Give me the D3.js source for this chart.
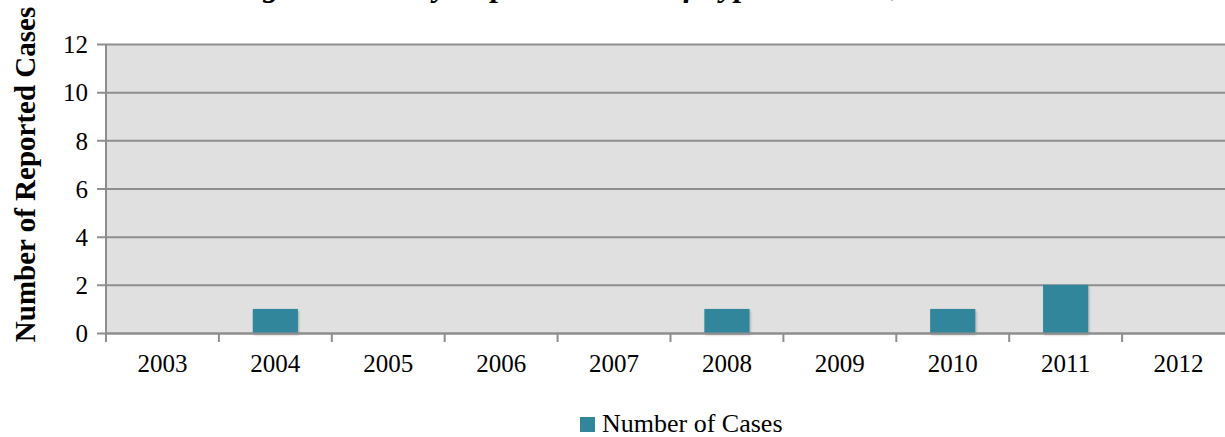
<!DOCTYPE html>
<html>
<head>
<meta charset="utf-8">
<script src="https://cdn.jsdelivr.net/npm/d3@7"></script>
<style>
  html, body { margin: 0; padding: 0; background: #fff; overflow: hidden; }
  svg { display: block; }
  text { font-family: "Liberation Serif", "DejaVu Serif", serif; fill: #000; }
</style>
</head>
<body>
<div id="canvas"></div>
<script>
// chart data
const years = ["2003", "2004", "2005", "2006", "2007", "2008", "2009", "2010", "2011", "2012"];
const cases = [0, 1, 0, 0, 0, 1, 0, 1, 2, 0];
const yTicks = [0, 2, 4, 6, 8, 10, 12];
const seriesName = "Number of Cases";
const yTitle = "Number of Reported Cases";
const chartTitle = "Figure 9: Yearly Reported Cases of Typhoid Fever, 2003-2012";

const width = 1225;
const height = 437;
const margin = { top: 44, left: 106, bottom: 104, right: -10 };
const iwidth = width - margin.left - margin.right;
const iheight = height - margin.top - margin.bottom;

const svg = d3.select("#canvas").append("svg")
  .attr("width", width)
  .attr("height", height);

const defs = svg.append("defs");
const shadow = defs.append("filter").attr("id", "shadow")
  .attr("x", "-10%").attr("y", "-10%").attr("width", "130%").attr("height", "130%");
shadow.append("feDropShadow")
  .attr("dx", 1).attr("dy", 2).attr("stdDeviation", 1.2)
  .attr("flood-color", "#000").attr("flood-opacity", 0.25);

// title (sits mostly above the visible area, as in the source)
svg.append("text")
  .attr("x", 640)
  .attr("y", -4)
  .attr("text-anchor", "middle")
  .style("font-size", "32px")
  .style("font-weight", "bold")
  .style("font-style", "italic")
  .text(chartTitle);

const g = svg.append("g").attr("transform", `translate(${margin.left},${margin.top})`);

const x = d3.scaleBand()
  .domain(years)
  .range([0, iwidth])
  .padding(0);

const y = d3.scaleLinear()
  .domain([0, 12])
  .range([iheight, 0]);

// plot background
g.append("rect")
  .attr("x", 0).attr("y", 0)
  .attr("width", iwidth).attr("height", iheight)
  .style("fill", "#e0e0e0");

// gridlines + left ticks
const yAxis = g.append("g")
  .classed("y--axis", true)
  .call(d3.axisLeft(y).tickValues(yTicks).tickSize(-iwidth).tickSizeOuter(0).tickPadding(18))
  .attr("font-family", null)
  .attr("font-size", null);
yAxis.select(".domain").remove();
yAxis.selectAll(".tick line")
  .attr("x1", -9)
  .style("stroke", "#8e8e8e")
  .style("stroke-width", 2);
yAxis.selectAll(".tick text")
  .style("font-size", "25px")
  .attr("dy", "0.35em");

// bars
const bw = x.bandwidth() * 0.4;
g.selectAll("rect.bar")
  .data(years.map((d, i) => ({ year: d, value: cases[i] })).filter(d => d.value > 0))
  .enter().append("rect")
  .attr("class", "bar")
  .style("fill", "#31869c")
  .attr("filter", "url(#shadow)")
  .attr("x", d => x(d.year) + (x.bandwidth() - bw) / 2)
  .attr("y", d => y(d.value))
  .attr("width", bw)
  .attr("height", d => iheight - y(d.value));

// x axis
const xAxis = g.append("g")
  .classed("x--axis", true)
  .attr("transform", `translate(0,${iheight})`)
  .call(d3.axisBottom(x).tickSize(0).tickPadding(21))
  .attr("font-family", null)
  .attr("font-size", null);
xAxis.select(".domain")
  .style("stroke", "#8e8e8e")
  .style("stroke-width", 2);
xAxis.selectAll(".tick text")
  .style("font-size", "25px");

// tick marks at category boundaries
g.append("g")
  .selectAll("line")
  .data(years)
  .enter().append("line")
  .attr("x1", d => x(d))
  .attr("x2", d => x(d))
  .attr("y1", iheight)
  .attr("y2", iheight + 9)
  .style("stroke", "#8e8e8e")
  .style("stroke-width", 2);

// left axis line
g.append("line")
  .attr("x1", 0).attr("x2", 0)
  .attr("y1", 0).attr("y2", iheight + 9)
  .style("stroke", "#8e8e8e")
  .style("stroke-width", 2);

// y axis title
svg.append("text")
  .attr("transform", `translate(35,${margin.top + iheight / 2 - 14}) rotate(-90)`)
  .attr("text-anchor", "middle")
  .style("font-size", "29px")
  .style("font-weight", "bold")
  .text(yTitle);

// legend
const legend = svg.append("g").attr("transform", "translate(580,417)");
legend.append("rect")
  .attr("width", 15).attr("height", 15)
  .style("fill", "#31869c");
legend.append("text")
  .attr("x", 22).attr("y", 15)
  .style("font-size", "26px")
  .text(seriesName);
</script>
</body>
</html>
